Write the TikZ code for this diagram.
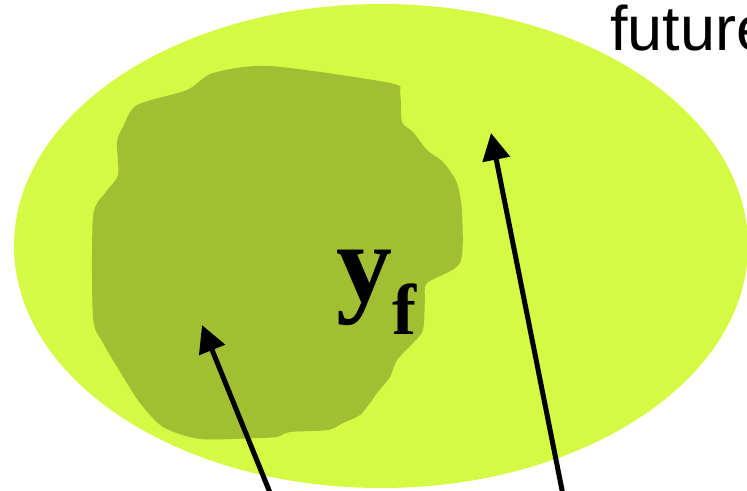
\documentclass[tikz,border=0pt]{standalone}
\usepackage{fontspec}
\setmainfont{Liberation Serif}
\newfontfamily\futurefont{Liberation Sans}
\usetikzlibrary{arrows.meta}
\definecolor{setlight}{HTML}{D4FA44}
\definecolor{setdark}{HTML}{A2BE32}
\tikzset{
  pointer/.style={line width=5pt,-{Triangle[length=27pt,width=27pt]}}
}
\begin{document}
\begin{tikzpicture}[x=1pt,y=-1pt]
  \useasboundingbox (0,0) rectangle (747,490);
  \clip (0,0) rectangle (747,490);
  \fill[setlight] (381,246) ellipse [x radius=367, y radius=242];
  \fill[setdark] plot[smooth cycle,tension=0.45] coordinates {
    (137,105) (187,90) (213,73) (270,66) (390,83) (400,93) (402,122)
    (413,132) (427,150) (443,162) (457,183) (462,213) (460,263)
    (427,283) (425,300) (423,330) (413,343) (397,360) (390,377)
    (377,393) (370,403) (360,415) (343,423) (328,430) (290,432)
    (277,437) (257,438) (200,439) (163,427) (140,403) (127,383)
    (103,343) (93,317) (93,217) (105,193) (118,175) (117,142)
    (123,127)};
  \node[anchor=base west,inner sep=0pt] (future) at (610,50)
    {\futurefont\fontsize{63}{63}\selectfont future};
  \node[anchor=base west,inner sep=0pt] (yf) at (336,301)
    {\bfseries\fontsize{112}{112}\selectfont y\raisebox{-33pt}{\fontsize{72}{72}\selectfont f}};
  \coordinate (inner) at (202,325);
  \coordinate (outer) at (491,133);
  \coordinate (innertail) at (277,510);
  \coordinate (outertail) at (566,510);
  \draw[pointer] (innertail) -- (inner);
  \draw[pointer] (outertail) -- (outer);
\end{tikzpicture}
\end{document}
